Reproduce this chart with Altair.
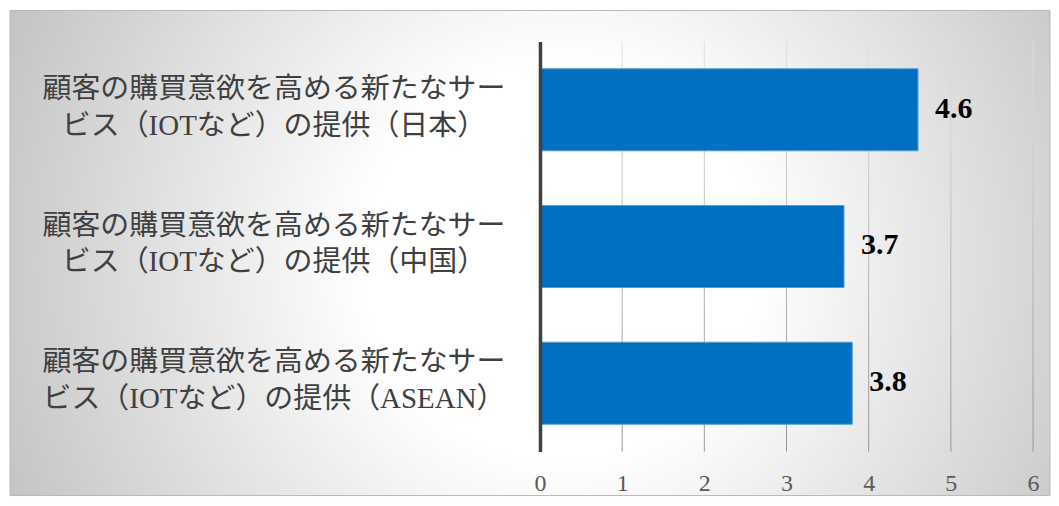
import altair as alt
import pandas as pd

categories = [
    "顧客の購買意欲を高める新たなサービス（IOTなど）の提供（日本）",
    "顧客の購買意欲を高める新たなサービス（IOTなど）の提供（中国）",
    "顧客の購買意欲を高める新たなサービス（IOTなど）の提供（ASEAN）",
]
values = [4.6, 3.7, 3.8]
x_ticks = [0, 1, 2, 3, 4, 5, 6]
grid_ticks = [1, 2, 3, 4, 5, 6]

W, H = 494, 411

df = pd.DataFrame({"category": categories, "value": values})
grid_df = pd.DataFrame({"tick": grid_ticks})

x_scale = alt.Scale(domain=[0, 6], nice=False, zero=True)
y_scale = alt.Scale(domain=categories, paddingInner=0.4, paddingOuter=0.2)

bg_fill = {
    "gradient": "radial",
    "x1": 0.529, "y1": 0.508, "r1": 0,
    "x2": 0.529, "y2": 0.508, "r2": 0.576,
    "stops": [
        {"offset": 0, "color": "#ffffff"},
        {"offset": 0.33, "color": "#ffffff"},
        {"offset": 1, "color": "#c4c4c4"},
    ],
}

bg = alt.Chart(pd.DataFrame({"k": [0]})).mark_rect(
    fill=bg_fill, stroke="#b8b8b8", strokeWidth=1
).encode(
    x=alt.value(-531), x2=alt.value(511), y=alt.value(-31), y2=alt.value(455)
)

grid_fill = {
    "gradient": "linear",
    "x1": 0, "y1": 0, "x2": 0, "y2": 1,
    "stops": [
        {"offset": 0, "color": "#e2e2e2"},
        {"offset": 1, "color": "#949494"},
    ],
}

grid = alt.Chart(grid_df).mark_tick(
    orient="vertical", thickness=1, size=H, color=grid_fill, opacity=1
).encode(
    x=alt.X("tick:Q", scale=x_scale), y=alt.value(H / 2)
)

bars = alt.Chart(df).mark_bar(
    color="#0070C0", stroke="#5B9BD5", strokeWidth=1
).encode(
    x=alt.X(
        "value:Q", scale=x_scale,
        axis=alt.Axis(
            values=x_ticks, grid=False, domain=False, ticks=False, tickSize=0,
            labelPadding=20, labelFont="Liberation Serif", labelFontSize=24,
            labelColor="#595959", title=None, zindex=1, format="d",
            labelFlush=False,
        ),
    ),
    y=alt.Y(
        "category:N", scale=y_scale, sort=categories,
        axis=alt.Axis(
            title=None, domainColor="#404040", domainWidth=3.5, ticks=False,
            tickSize=0, labelAlign="center", labelPadding=267, labelLimit=600,
            labelFontSize=29, labelLineHeight=37, labelColor="#404040",
            labelFont="Liberation Serif, Noto Sans CJK JP",
            labelExpr="[substring(datum.label,0,16), substring(datum.label,16)]",
            labelOffset=-21, zindex=1, grid=False,
        ),
    ),
)

text = alt.Chart(df).mark_text(
    align="left", baseline="middle", dx=17, dy=-1, font="Liberation Serif",
    fontSize=30, fontWeight="bold", color="#000000"
).encode(
    x=alt.X("value:Q", scale=x_scale),
    y=alt.Y("category:N", scale=y_scale, sort=categories),
    text=alt.Text("value:Q", format=".1f"),
)

chart = alt.layer(bg, grid, bars, text).properties(
    width=W, height=H,
    padding={"left": 1, "top": 1, "right": 0, "bottom": 0},
).configure_view(stroke=None)

chart.save("out.html", embed_options={"renderer": "svg", "actions": False})
